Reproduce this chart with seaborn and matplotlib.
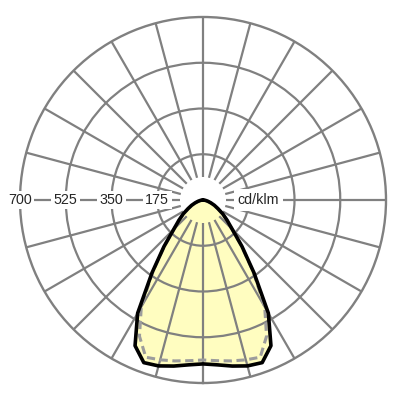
import numpy as np
import pandas as pd
import matplotlib
matplotlib.use("Agg")
import matplotlib.pyplot as plt
import seaborn as sns

# gamma angle (deg from nadir) and luminous intensity (cd/klm)
gamma = [0, 5, 10, 15, 20, 25, 30, 35, 40, 45, 50, 55, 60, 65, 70, 75, 80, 85, 90]
c0_c180 = [627, 633, 645, 657, 662, 615, 500, 340, 232, 158, 120, 92, 66, 48, 32, 20, 11, 5, 0]
c90_c270 = [612, 617, 625, 633, 640, 575, 472, 335, 230, 157, 119, 91, 65, 47, 31, 19, 10, 4, 0]

ring_values = [175, 350, 525, 700]
ring_labels = ["175", "350", "525", "700"]
unit_label = "cd/klm"


def full_curve(angles, values):
    # mirror the half plane so the curve is drawn on both sides
    th = [-a for a in angles[::-1]] + angles[1:]
    r = values[::-1] + values[1:]
    return pd.DataFrame({"theta": np.deg2rad(th), "r": r})


sns.set_style("white")
plt.rcParams["font.family"] = ["Liberation Sans", "DejaVu Sans"]

fig = plt.figure(figsize=(4, 4), dpi=100)
ax = fig.add_axes([0.05, 0.0425, 0.915, 0.915], projection="polar")
ax.set_theta_zero_location("S")
ax.set_ylim(0, 700)

grid_col = "#808080"
# circles
ax.set_yticks(ring_values[:-1])
ax.set_yticklabels([])
ax.set_xticks([])
ax.yaxis.grid(True, color=grid_col, lw=1.6)
ax.xaxis.grid(False)
ax.spines["polar"].set_color(grid_col)
ax.spines["polar"].set_linewidth(1.7)
ax.set_axisbelow(False)

# radial lines every 15 deg, leaving a hole in the middle
for a in range(0, 360, 15):
    t = np.deg2rad(a)
    ax.plot([t, t], [88, 700], color=grid_col, lw=1.6, zorder=2.5,
            solid_capstyle="butt")

solid = full_curve(gamma, c0_c180)
dashed = full_curve(gamma, c90_c270)

ax.fill(solid["theta"], solid["r"], color="#FFFDC0", zorder=1)
sns.lineplot(data=dashed, x="theta", y="r", sort=False, ax=ax,
             color="#9C9C9C", lw=2.2, dashes=False, linestyle=(0, (2.7, 1.5)),
             zorder=4)
sns.lineplot(data=solid, x="theta", y="r", sort=False, ax=ax,
             color="black", lw=2.6, zorder=5)
ax.set_xlabel("")
ax.set_ylabel("")

box = dict(facecolor="white", edgecolor="none", pad=1.8)
for v, lab in zip(ring_values, ring_labels):
    ax.text(np.deg2rad(270), v, lab, ha="center", va="center", fontsize=10.3,
            bbox=box, zorder=6, clip_on=False)
ax.text(np.deg2rad(90), 212, unit_label, ha="center", va="center",
        fontsize=10.3, bbox=dict(facecolor="white", edgecolor="none", pad=3),
        zorder=6)

fig.savefig("out.png", dpi=100)
